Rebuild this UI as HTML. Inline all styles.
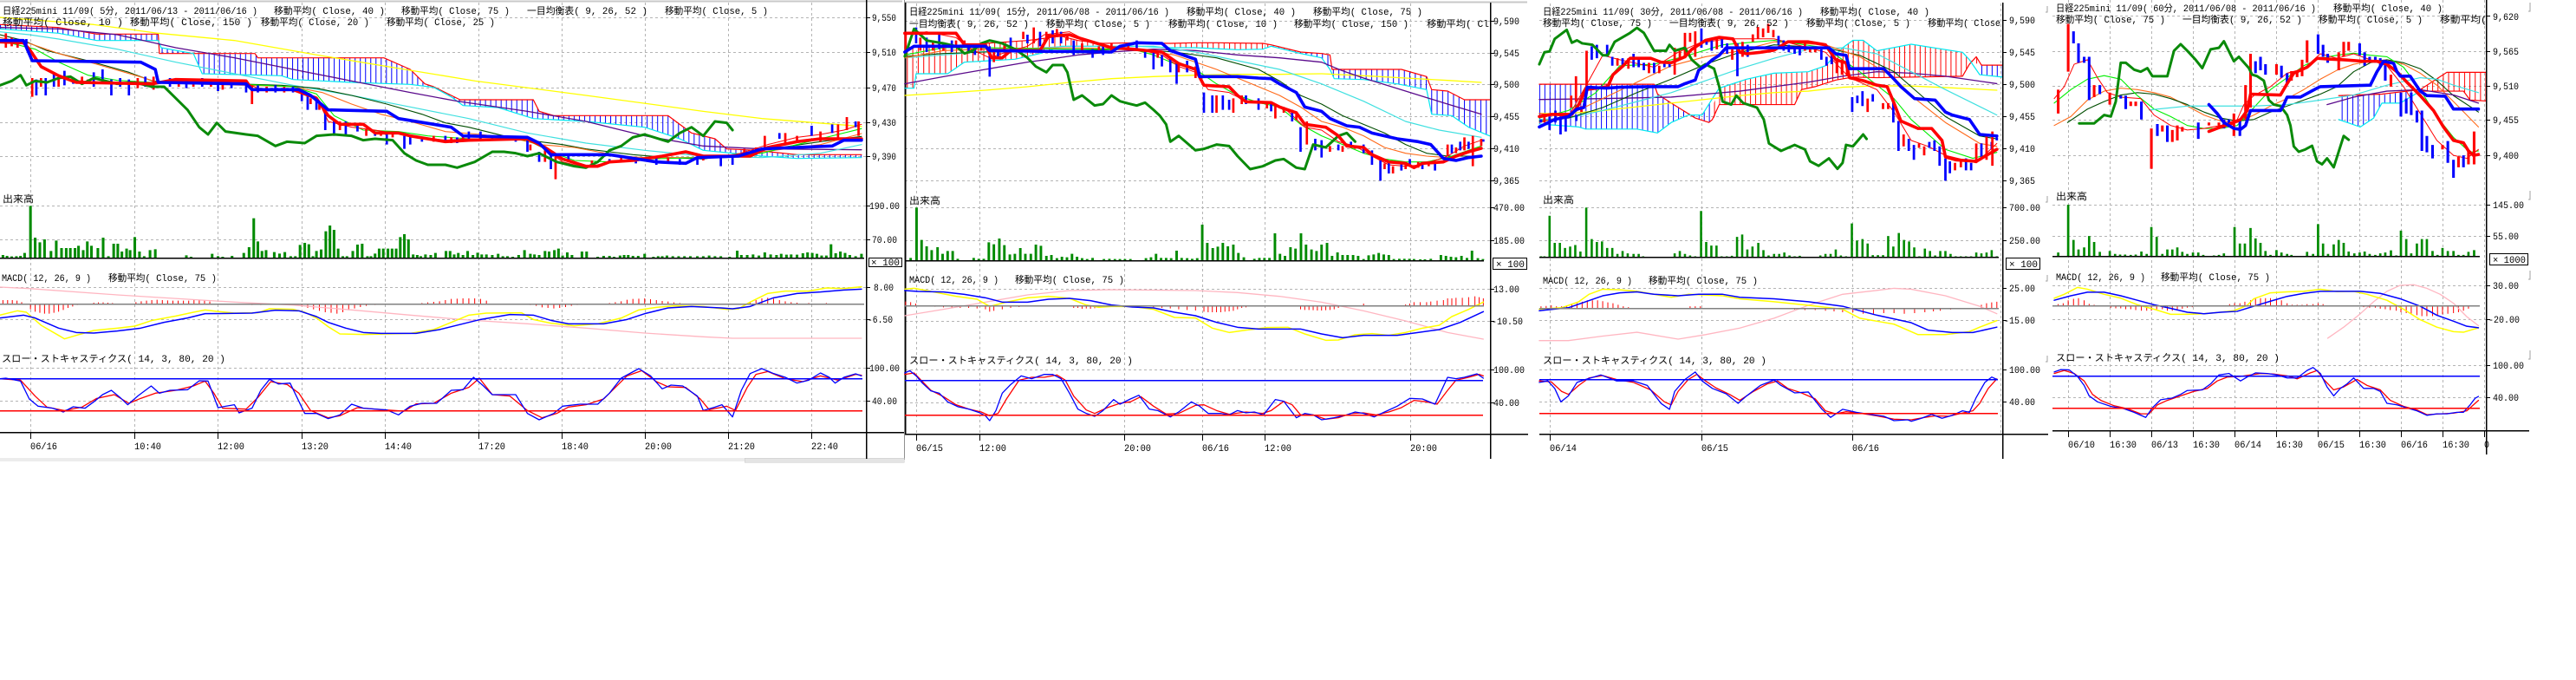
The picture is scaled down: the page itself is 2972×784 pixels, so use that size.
<!DOCTYPE html>
<html><head><meta charset="utf-8">
<style>
html,body{margin:0;padding:0;background:#fff;}
svg{display:block;}
.n{fill:none;vector-effect:non-scaling-stroke;stroke-linejoin:round;stroke-linecap:round;}
.gd{stroke:#b4b4b4;stroke-width:1;stroke-dasharray:3 3;fill:none;}
text{font-family:"Liberation Mono","Noto Sans CJK JP",monospace;font-size:11px;fill:#000;}
</style></head>
<body>
<svg width="2972" height="784" viewBox="0 0 2972 784" xmlns="http://www.w3.org/2000/svg">
<defs>
<pattern id="hb1" patternUnits="userSpaceOnUse" width="8.9" height="10"><rect width="1.5" height="10" fill="#0000ff"/></pattern>
<pattern id="hr2" patternUnits="userSpaceOnUse" width="13" height="10"><rect width="2.1" height="10" fill="#ff0000"/></pattern>
<pattern id="hb2" patternUnits="userSpaceOnUse" width="13" height="10"><rect width="2.1" height="10" fill="#0000ff"/></pattern>
<pattern id="hr3" patternUnits="userSpaceOnUse" width="15" height="10"><rect width="2.5" height="10" fill="#ff0000"/></pattern>
<pattern id="hb3" patternUnits="userSpaceOnUse" width="15" height="10"><rect width="2.5" height="10" fill="#0000ff"/></pattern>
<pattern id="hr4" patternUnits="userSpaceOnUse" width="16" height="10"><rect width="2.6" height="10" fill="#ff0000"/></pattern>
<pattern id="hb4" patternUnits="userSpaceOnUse" width="16" height="10"><rect width="2.6" height="10" fill="#0000ff"/></pattern>
</defs>
<rect width="2972" height="784" fill="#fff"/>

<!-- ================= PANEL 1 ================= -->
<g shape-rendering="crispEdges">
<path class="gd" d="M0 20.5H999M0 60.5H999M0 101.5H999M0 141.5H999M0 180.5H999M0 237.5H999M0 276.5H999M0 331.5H999M0 368.5H999M0 424.5H999M0 462.5H999"/>
<path class="gd" d="M35.5 3V498M155.5 3V498M251.5 3V498M348.5 3V498M444.5 3V498M552.5 3V498M648.5 3V498M744.5 3V498M840.5 3V498M936.5 3V498"/>
<path d="M0 1.5H1041" stroke="#c8c8c8" stroke-width="2"/>
<path d="M1043.5 0V530" stroke="#909090" stroke-width="1"/>
<rect x="0" y="528" width="859" height="4" fill="#ececec"/>
<rect x="859" y="528" width="184" height="5" fill="#e4e4e4" stroke="#c8c8c8" stroke-width="0.5"/>
</g>

<g transform="matrix(0.67613 0 0 0.33333 0 0)">
<polygon points="0,85 100,95 165,118 270,118 272,185 435,185 440,200 655,200 700,240 725,290 740,300 770,330 785,345 910,345 920,385 945,400 1140,400 1160,430 1180,460 1220,480 1240,515 1290,520 1360,535 1470,535 1470,545 1360,548 1300,540 1200,520 1160,480 1100,440 1000,420 910,410 850,372 790,365 770,335 740,302 700,292 600,285 500,275 480,262 345,255 330,185 275,165 270,140 165,140 100,115 0,100" fill="url(#hb1)"/>
<polyline class="n" stroke="#ff0000" stroke-width="1.2" points="0,85 100,95 165,118 270,118 272,185 435,185 440,200 655,200 700,240 725,290 740,300 770,330 785,345 910,345 920,385 945,400 1140,400 1160,430 1180,460 1220,480 1240,515 1290,520 1360,535 1470,535"/>
<polyline class="n" stroke="#00e8f0" stroke-width="1.2" points="0,100 100,115 165,140 270,140 275,165 330,185 345,255 480,262 500,275 600,285 700,292 740,302 770,335 790,365 850,372 910,410 1000,420 1100,440 1160,480 1200,520 1300,540 1360,548 1470,545"/>
<polyline class="n" stroke="#ffff00" stroke-width="1.3" points="0,60 160,85 270,115 400,140 541,190 676,235 811,280 1000,330 1200,385 1300,410 1470,437"/>
<polyline class="n" stroke="#5a0a8c" stroke-width="1.3" points="0,95 100,100 200,120 300,165 400,200 500,240 600,280 700,320 780,350 900,385 1000,420 1100,470 1200,505 1300,515 1470,518"/>
<polyline class="n" stroke="#40e0e0" stroke-width="1.2" points="0,110 50,120 100,135 200,170 300,215 400,255 500,295 600,330 700,370 800,410 900,460 1000,495 1100,520 1200,540 1300,545 1400,530 1470,500"/>
<polyline class="n" stroke="#004d00" stroke-width="1.1" points="0,120 40,140 80,175 150,210 220,250 260,280 300,285 400,290 480,295 540,305 600,330 660,360 720,395 760,425 800,440 860,470 920,490 960,500 1000,515 1040,525 1080,535 1140,545 1200,550 1300,520 1400,490 1470,472"/>
<polyline class="n" stroke="#ff6a1a" stroke-width="1.1" points="0,130 50,150 100,185 170,225 230,260 270,285 320,290 420,295 500,300 550,320 600,360 650,395 700,420 760,455 820,465 880,480 920,500 980,510 1020,525 1060,540 1100,545 1200,545 1300,525 1400,500 1470,462"/>
<polyline class="n" stroke="#00ee00" stroke-width="1.1" points="0,140 60,170 100,215 150,260 200,278 260,285 400,290 500,300 540,325 570,400 620,450 680,455 730,470 800,480 900,485 940,525 980,555 1040,560 1100,550 1200,545 1300,530 1360,500 1400,480 1470,445"/>
<polyline class="n" stroke="#ff0000" stroke-width="1" points="0,140 40,145 70,235 110,275 150,282 200,290 260,285 300,280 420,288 440,305 510,315 540,335 560,420 600,440 640,450 700,470 760,485 800,480 900,480 930,515 960,560 1000,580 1040,560 1100,550 1170,525 1200,545 1240,545 1280,520 1310,500 1360,475 1400,465 1440,450 1470,430"/>
<path stroke="#0000ff" stroke-width="4" fill="none" d="M45 135V165M62 275V330M78 270V330M92 250V300M110 245V295M125 270V290M160 250V300M175 240V290M190 275V330M205 270V300M220 275V330M248 265V300M290 270V300M318 275V305M345 270V300M372 285V315M395 290V305M420 290V320M440 295V320M470 295V320M500 300V320M515 310V350M525 330V380M540 350V380M555 380V450M570 420V470M590 420V465M610 430V455M640 455V470M660 460V500M690 470V515M700 470V500M720 475V490M760 470V490M780 475V495M800 455V485M820 455V480M840 470V485M880 470V490M900 480V525M920 525V560M940 535V585M970 540V560M1040 550V560M1085 550V565M1120 540V570M1160 550V570M1190 545V570M1230 540V575M1250 540V570M1330 460V480M1385 435V470M1420 430V460M1460 420V440"/>
<path stroke="#ff0000" stroke-width="4" fill="none" d="M10 115V165M20 130V160M30 145V165M55 270V335M70 270V300M100 270V300M140 265V290M150 275V290M235 270V305M262 265V310M305 270V300M330 275V300M360 280V300M380 290V310M430 295V360M455 300V320M485 300V320M530 340V360M545 360V380M580 420V450M625 445V470M650 455V470M670 460V475M740 470V490M770 475V495M790 470V490M860 470V480M905 500V520M930 520V560M948 540V620M990 565V580M1010 555V580M1060 545V560M1100 545V555M1140 545V560M1200 540V555M1270 515V535M1290 510V530M1305 470V510M1340 460V500M1360 470V495M1400 455V490M1430 430V480M1445 405V450M1465 420V470"/>
<polyline class="n" stroke="#0a8a0a" stroke-width="3" points="0,295 20,280 35,260 45,295 60,280 80,285 100,270 120,265 140,290 160,270 200,290 230,285 260,300 280,300 300,340 320,380 340,440 355,465 370,425 385,455 420,465 440,470 470,505 490,490 520,495 540,470 570,465 600,470 620,485 640,480 670,485 690,530 710,555 730,570 760,570 780,580 810,560 840,525 860,525 880,530 900,540 920,530 950,560 980,575 1000,580 1020,560 1040,520 1060,505 1080,475 1100,465 1140,490 1160,460 1180,440 1200,470 1220,420 1240,425 1250,450"/>
<polyline class="n" stroke="#ff0000" stroke-width="3.6" points="0,145 40,148 50,170 70,230 100,262 130,285 260,290 300,275 420,280 430,310 500,310 540,340 560,400 580,430 620,430 640,460 680,460 700,470 760,490 800,485 900,480 930,510 960,550 1000,575 1020,575 1040,560 1080,555 1130,540 1170,525 1200,540 1280,540 1310,510 1360,490 1400,480 1440,480 1470,480"/>
<polyline class="n" stroke="#0000ff" stroke-width="3.6" points="0,140 40,140 55,210 240,215 265,240 270,285 420,290 430,310 510,310 530,330 560,380 660,385 680,410 740,430 770,440 790,470 900,475 920,495 940,535 1040,535 1120,560 1170,565 1190,545 1260,540 1300,515 1420,505 1440,485 1470,485"/>
</g>

<g transform="matrix(0.67613 0 0 0.33333 0 220)">
<path stroke="#008a00" stroke-width="4.5" fill="none" d="M5 232V222M12 232V225M20 232V227M28 232V226M35 232V225M42 232V215M52 232V52M60 232V162M68 232V178M76 232V168M87 232V208M96 232V172M105 232V198M113 232V198M120 232V198M128 232V198M134 232V190M142 232V205M149 232V175M156 232V190M167 232V198M176 232V162M185 232V226M194 232V183M201 232V183M208 232V210M216 232V200M222 232V205M230 232V160M238 232V210M246 232V226M256 232V205M265 232V202M318 232V223M326 232V228M362 232V218M372 232V226M380 232V228M396 232V225M416 232V215M425 232V195M433 232V95M440 232V175M447 232V208M454 232V205M468 232V212M477 232V217M486 232V212M496 232V226M504 232V226M512 232V187M520 232V180M527 232V185M534 232V226M540 232V208M548 232V203M556 232V140M563 232V120M570 232V135M577 232V200M585 232V226M592 232V226M602 232V208M610 232V186M618 232V183M627 232V226M633 232V226M640 232V217M647 232V200M654 232V200M662 232V200M669 232V200M676 232V200M683 232V160M690 232V150M697 232V168M705 232V220M712 232V222M718 232V226M726 232V220M735 232V222M743 232V215M761 232V208M768 232V208M775 232V220M782 232V215M790 232V222M798 232V208M807 232V222M815 232V214M822 232V220M830 232V220M840 232V222M850 232V218M858 232V226M866 232V226M875 232V228M885 232V222M895 232V205M905 232V218M912 232V220M920 232V222M930 232V208M937 232V210M946 232V205M953 232V200M960 232V224M968 232V213M976 232V222M993 232V210M1001 232V210M1020 232V228M1030 232V225M1040 232V225M1048 232V228M1058 232V224M1065 232V222M1072 232V222M1080 232V225M1089 232V225M1100 232V218M1115 232V228M1123 232V226M1130 232V226M1138 232V224M1148 232V226M1158 232V226M1168 232V226M1178 232V226M1190 232V226M1200 232V226M1210 232V224M1220 232V226M1230 232V226M1245 232V228M1258 232V207M1265 232V222M1275 232V222M1285 232V220M1295 232V224M1305 232V213M1315 232V220M1325 232V222M1333 232V218M1342 232V221M1350 232V220M1360 232V221M1370 232V216M1378 232V213M1386 232V215M1394 232V218M1402 232V224M1410 232V224M1418 232V185M1426 232V216M1434 232V210M1442 232V215M1450 232V222M1460 232V226M1470 232V218"/>
<path stroke="#ff0000" stroke-width="1.5" fill="none" d="M5 391V378M13 391V378M21 391V378M29 391V380M37 391V385M52 391V410M60 391V418M68 391V422M76 391V425M84 391V425M92 391V422M100 391V418M108 391V412M116 391V405M124 391V400M132 391V395M160 391V387M168 391V386M176 391V386M184 391V387M192 391V388M232 391V385M241 391V382M250 391V380M259 391V378M268 391V377M277 391V378M286 391V379M295 391V380M304 391V380M313 391V380M322 391V380M331 391V378M340 391V378M349 391V380M358 391V383M430 391V395M445 391V395M460 391V394M505 391V395M515 391V400M525 391V405M535 391V410M545 391V415M555 391V420M565 391V422M575 391V425M585 391V420M595 391V413M605 391V407M615 391V402M625 391V398M640 391V395M655 391V394M720 391V388M730 391V386M740 391V384M750 391V382M760 391V378M770 391V374M780 391V373M790 391V372M800 391V372M810 391V372M820 391V374M830 391V380M905 391V395M915 391V398M925 391V403M935 391V405M945 391V407M955 391V405M965 391V402M975 391V398M985 391V395M1040 391V388M1050 391V385M1060 391V382M1070 391V377M1080 391V374M1090 391V373M1100 391V372M1110 391V375M1120 391V378M1130 391V381M1140 391V383M1150 391V386M1160 391V388M1270 391V390M1280 391V384M1290 391V378M1300 391V372M1310 391V370M1320 391V373M1330 391V378M1340 391V382M1350 391V385M1360 391V387M1380 391V388M1410 391V388"/>
<polyline class="n" stroke="#ffb6c1" stroke-width="1.3" points="0,333 50,338 200,360 400,385 500,395 600,412 700,430 800,447 900,460 1000,475 1100,492 1200,505 1250,510 1470,510"/>
<polyline class="n" stroke="#ffff00" stroke-width="1.5" points="0,430 30,415 45,420 70,465 100,500 110,512 130,500 160,483 200,475 230,468 260,448 300,433 330,420 350,412 370,417 400,423 440,422 460,408 500,410 520,420 540,440 560,470 580,495 620,497 660,495 700,493 740,480 770,455 800,430 830,423 890,422 910,445 940,458 980,467 1020,460 1060,440 1090,412 1120,403 1150,398 1200,400 1240,410 1260,408 1280,385 1310,355 1340,347 1380,347 1410,336 1440,338 1470,332"/>
<polyline class="n" stroke="#0000ff" stroke-width="1.5" points="0,440 40,430 60,440 100,475 130,490 160,492 200,485 240,475 280,455 320,440 350,425 430,423 470,413 510,415 540,435 560,455 590,475 620,490 650,493 710,493 750,480 790,460 820,445 870,428 910,430 940,448 970,460 1030,460 1070,445 1100,425 1140,405 1180,400 1230,405 1250,408 1280,400 1320,370 1360,355 1400,350 1440,343 1470,340"/>
<polyline class="n" stroke="#ff0000" stroke-width="1.3" points="0,650 35,655 60,710 80,748 110,760 140,748 165,718 195,705 220,735 240,718 265,700 300,690 330,675 350,658 365,700 380,752 420,755 440,715 462,660 490,670 510,700 530,760 560,785 580,778 610,750 650,757 690,762 710,737 740,735 770,700 800,680 818,648 840,705 870,710 900,760 925,785 950,770 970,748 1000,740 1030,720 1050,680 1070,640 1095,622 1120,660 1140,678 1170,680 1195,720 1210,757 1240,745 1255,760 1275,680 1290,635 1310,625 1340,650 1370,660 1400,640 1430,655 1460,635 1470,638"/>
<polyline class="n" stroke="#0000ff" stroke-width="1.3" points="0,650 10,648 35,658 50,720 65,745 90,752 108,765 125,747 145,752 160,730 175,705 190,690 205,715 218,740 235,710 258,675 272,700 290,690 320,688 340,657 355,658 372,750 385,745 400,740 408,768 430,752 445,690 460,652 475,668 495,665 520,770 540,770 560,788 580,775 600,738 620,752 660,758 680,775 700,745 720,735 745,735 770,690 790,688 808,645 825,675 840,705 880,705 900,770 920,792 945,770 960,745 990,738 1020,738 1040,700 1060,648 1090,615 1110,640 1130,685 1145,672 1165,675 1190,710 1200,760 1220,748 1232,740 1250,782 1265,690 1280,632 1300,615 1320,632 1340,645 1360,665 1380,655 1400,630 1415,645 1425,665 1440,645 1460,633 1470,640"/>
</g>

<g shape-rendering="crispEdges">
<path d="M0 297.5H997" stroke="#000" stroke-width="1.5"/>
<path d="M0 350.5H997" stroke="#808080" stroke-width="1.5"/>
<path d="M0 436.5H995" stroke="#0000ff" stroke-width="1.5"/>
<path d="M0 473.5H995" stroke="#ff0000" stroke-width="1.5"/>
<path d="M0 498.5H1043" stroke="#000" stroke-width="1.5"/>
<path d="M999.5 0V529" stroke="#000" stroke-width="1.5"/>
<path d="M35.5 498V506M155.5 498V506M251.5 498V506M348.5 498V506M444.5 498V506M552.5 498V506M648.5 498V506M744.5 498V506M840.5 498V506M936.5 498V506" stroke="#000" stroke-width="1"/>
<path d="M999 20.5H1004M999 60.5H1004M999 101.5H1004M999 141.5H1004M999 180.5H1004M999 237.5H1004M999 276.5H1004M999 331.5H1004M999 368.5H1004M999 424.5H1004M999 462.5H1004" stroke="#000" stroke-width="1"/>
<rect x="1002.5" y="297.5" width="38" height="10" fill="#fff" stroke="#000" stroke-width="1"/>
</g>
<text x="3" y="16" textLength="294" lengthAdjust="spacingAndGlyphs">日経225mini 11/09( 5分, 2011/06/13 - 2011/06/16 )</text>
<text x="316" y="16" textLength="128" lengthAdjust="spacingAndGlyphs">移動平均( Close, 40 )</text>
<text x="463" y="16" textLength="125" lengthAdjust="spacingAndGlyphs">移動平均( Close, 75 )</text>
<text x="608" y="16" textLength="139" lengthAdjust="spacingAndGlyphs">一目均衡表( 9, 26, 52 )</text>
<text x="767" y="16" textLength="119" lengthAdjust="spacingAndGlyphs">移動平均( Close, 5 )</text>
<text x="3" y="29" textLength="139" lengthAdjust="spacingAndGlyphs">移動平均( Close, 10 )</text>
<text x="150" y="29" textLength="141" lengthAdjust="spacingAndGlyphs">移動平均( Close, 150 )</text>
<text x="301" y="29" textLength="125" lengthAdjust="spacingAndGlyphs">移動平均( Close, 20 )</text>
<text x="446" y="29" textLength="125" lengthAdjust="spacingAndGlyphs">移動平均( Close, 25 )</text>
<text x="1006" y="24" textLength="28" lengthAdjust="spacingAndGlyphs">9,550</text>
<text x="1006" y="64" textLength="28" lengthAdjust="spacingAndGlyphs">9,510</text>
<text x="1006" y="105" textLength="28" lengthAdjust="spacingAndGlyphs">9,470</text>
<text x="1006" y="145" textLength="28" lengthAdjust="spacingAndGlyphs">9,430</text>
<text x="1006" y="184" textLength="28" lengthAdjust="spacingAndGlyphs">9,390</text>
<text x="1003" y="241" textLength="35" lengthAdjust="spacingAndGlyphs">190.00</text>
<text x="1006" y="280" textLength="29" lengthAdjust="spacingAndGlyphs">70.00</text>
<text x="1008" y="335" textLength="23" lengthAdjust="spacingAndGlyphs">8.00</text>
<text x="1001" y="372" textLength="29" lengthAdjust="spacingAndGlyphs">-6.50</text>
<text x="1003" y="428" textLength="35" lengthAdjust="spacingAndGlyphs">100.00</text>
<text x="1006" y="466" textLength="29" lengthAdjust="spacingAndGlyphs">40.00</text>
<text x="1005" y="306" font-size="10" textLength="33" lengthAdjust="spacingAndGlyphs">× 100</text>
<text x="3" y="233" textLength="36" lengthAdjust="spacingAndGlyphs">出来高</text>
<text x="2" y="324" textLength="103" lengthAdjust="spacingAndGlyphs">MACD( 12, 26, 9 )</text>
<text x="125" y="324" textLength="125" lengthAdjust="spacingAndGlyphs">移動平均( Close, 75 )</text>
<text x="2" y="417" textLength="258" lengthAdjust="spacingAndGlyphs">スロー・ストキャスティクス( 14, 3, 80, 20 )</text>
<text x="35" y="518" textLength="31" lengthAdjust="spacingAndGlyphs">06/16</text>
<text x="155" y="518" textLength="31" lengthAdjust="spacingAndGlyphs">10:40</text>
<text x="251" y="518" textLength="31" lengthAdjust="spacingAndGlyphs">12:00</text>
<text x="348" y="518" textLength="31" lengthAdjust="spacingAndGlyphs">13:20</text>
<text x="444" y="518" textLength="31" lengthAdjust="spacingAndGlyphs">14:40</text>
<text x="552" y="518" textLength="31" lengthAdjust="spacingAndGlyphs">17:20</text>
<text x="648" y="518" textLength="31" lengthAdjust="spacingAndGlyphs">18:40</text>
<text x="744" y="518" textLength="31" lengthAdjust="spacingAndGlyphs">20:00</text>
<text x="840" y="518" textLength="31" lengthAdjust="spacingAndGlyphs">21:20</text>
<text x="936" y="518" textLength="31" lengthAdjust="spacingAndGlyphs">22:40</text>

<!-- ================= PANEL 2 ================= -->
<g shape-rendering="crispEdges">
<path class="gd" d="M1044 24.5H1720M1044 61.5H1720M1044 97.5H1720M1044 134.5H1720M1044 171.5H1720M1044 208.5H1720M1044 239.5H1720M1044 277.5H1720M1044 333.5H1720M1044 370.5H1720M1044 426.5H1720M1044 464.5H1720"/>
<path class="gd" d="M1057.5 4V500M1130.5 4V500M1297.5 4V500M1387.5 4V500M1459.5 4V500M1627.5 4V500"/>
<path d="M1044 2.5H1762" stroke="#c8c8c8" stroke-width="2"/>
<path d="M1044.5 3V500" stroke="#000" stroke-width="1.5"/>
</g>
<g transform="matrix(0.48473 0 0 0.33333 1040 0)">
<polygon points="8,165 100,160 200,150 300,140 380,125 420,140 480,150 480,150 450,160 380,160 330,185 270,205 150,215 110,255 35,255 30,305 8,305" fill="url(#hr2)"/>
<polygon points="640,150 700,148 750,148 860,150 880,155 880,160 860,170 800,172 700,165 640,165" fill="url(#hr2)"/>
<polygon points="880,155 950,180 1000,185 1020,190 1025,240 1190,240 1250,265 1262,310 1300,315 1340,345 1400,345 1400,470 1350,440 1310,400 1262,395 1250,310 1180,290 1100,275 1030,272 1020,240 1000,200 950,185 880,160" fill="url(#hb2)"/>
<polyline class="n" stroke="#ff0000" stroke-width="1.2" points="8,165 100,160 200,150 300,140 380,125 420,140 480,150 560,148 640,150 700,148 750,148 860,150 880,155 950,180 1000,185 1020,190 1025,240 1190,240 1250,265 1262,310 1300,315 1340,345 1400,345"/>
<polyline class="n" stroke="#00e8f0" stroke-width="1.2" points="8,305 30,305 35,255 110,255 150,215 270,205 330,185 380,160 450,160 560,160 640,165 700,165 800,172 860,170 880,160 950,185 1000,200 1020,240 1030,272 1100,275 1180,290 1250,310 1262,395 1310,400 1350,440 1400,470"/>
<polyline class="n" stroke="#ffff00" stroke-width="1.3" points="8,330 100,322 200,312 300,300 400,285 500,272 600,265 700,260 800,257 900,257 1000,255 1100,262 1200,270 1300,278 1380,285"/>
<polyline class="n" stroke="#5a0a8c" stroke-width="1.3" points="8,290 100,265 200,240 300,215 350,205 420,190 500,180 600,170 700,175 800,190 900,200 1000,215 1050,245 1100,270 1200,315 1300,360 1380,395"/>
<polyline class="n" stroke="#40e0e0" stroke-width="1.2" points="8,200 100,190 200,178 300,168 400,160 500,160 600,160 700,180 800,210 900,240 1000,290 1100,350 1200,420 1280,450 1380,475"/>
<polyline class="n" stroke="#004d00" stroke-width="1.1" points="8,195 100,185 200,180 400,175 550,170 650,180 750,200 850,240 900,280 950,330 1000,360 1050,400 1100,430 1150,460 1200,500 1250,530 1300,540 1380,540"/>
<polyline class="n" stroke="#ff6a1a" stroke-width="1.1" points="8,200 100,175 200,170 400,165 550,170 650,190 750,240 800,270 850,300 900,330 950,370 1000,420 1050,440 1100,470 1150,510 1200,530 1250,540 1300,545 1380,515"/>
<polyline class="n" stroke="#00ee00" stroke-width="1.1" points="8,190 100,165 200,165 400,170 550,170 600,190 650,220 700,240 750,290 800,330 850,355 900,370 950,430 1000,470 1050,500 1100,530 1150,550 1200,560 1250,560 1300,545 1380,505"/>
<polyline class="n" stroke="#ff0000" stroke-width="1" points="8,120 60,110 130,130 160,165 210,200 240,185 300,160 340,120 400,110 440,140 500,165 560,170 620,190 660,230 700,250 730,310 780,320 820,350 880,358 920,385 960,440 1000,450 1040,490 1080,505 1120,540 1160,570 1200,575 1240,570 1300,540 1340,505 1380,485"/>
<path stroke="#0000ff" stroke-width="5.5" fill="none" d="M35 95V150M60 130V180M90 120V170M120 140V180M160 150V180M175 150V190M210 160V265M230 180V200M260 130V170M300 120V150M330 110V160M360 105V150M380 110V150M410 140V190M455 170V200M480 160V190M560 140V175M580 170V200M600 180V240M620 190V230M640 200V250M655 220V290M680 210V250M720 320V390M740 330V390M765 330V380M780 345V380M820 330V360M850 340V380M880 355V385M930 380V420M950 440V525M985 480V520M1000 485V545M1040 500V520M1070 490V510M1100 500V530M1120 520V570M1140 555V625M1160 560V600M1190 565V590M1210 550V575M1240 560V585M1270 560V590M1310 500V530M1330 490V520M1350 490V515M1385 482V490"/>
<path stroke="#ff0000" stroke-width="5.5" fill="none" d="M10 110V190M45 130V175M75 140V175M100 150V175M130 140V160M150 140V165M190 150V175M220 170V215M245 150V175M290 110V135M315 95V150M345 110V135M370 100V125M395 120V140M430 150V180M470 160V180M500 150V180M540 150V170M610 180V200M660 215V250M700 230V270M750 330V390M790 340V390M810 330V360M870 350V375M890 360V410M910 370V390M940 395V415M965 420V500M1020 505V525M1050 505V525M1080 505V515M1150 565V585M1170 575V600M1200 570V585M1230 560V580M1255 560V575M1300 500V540M1320 510V530M1340 475V520M1360 470V575M1380 480V505"/>
<polyline class="n" stroke="#0a8a0a" stroke-width="3" points="8,195 30,100 60,140 100,150 130,160 150,185 170,175 190,150 210,140 240,150 270,170 300,200 320,230 345,250 360,225 385,225 395,250 410,345 430,330 460,365 480,360 500,330 520,350 540,358 560,365 580,355 600,380 615,400 630,430 640,490 660,470 700,520 720,515 750,500 780,505 800,540 830,585 860,575 890,555 910,550 940,580 960,585 980,500 1010,510 1040,470 1060,460 1080,490"/>
<polyline class="n" stroke="#ff0000" stroke-width="3.6" points="8,115 30,115 130,115 150,155 200,155 215,200 240,200 260,175 330,175 350,125 400,120 420,130 500,165 550,170 620,180 660,220 700,240 720,295 780,300 800,330 820,352 880,355 900,370 920,380 940,390 960,430 1010,440 1040,470 1060,505 1100,510 1120,535 1160,560 1200,565 1220,580 1240,565 1290,560 1320,540 1350,525 1380,513"/>
<polyline class="n" stroke="#0000ff" stroke-width="3.6" points="8,180 30,160 200,160 210,175 350,178 400,178 500,180 520,160 560,148 620,150 640,175 680,195 700,205 710,265 800,265 850,270 880,272 900,290 920,305 940,320 960,370 1000,385 1020,410 1060,435 1090,440 1120,460 1180,480 1230,490 1260,500 1290,548 1320,555 1350,545 1380,540"/>
</g>
<g transform="matrix(0.48473 0 0 0.33333 1040 220)">
<path stroke="#008a00" stroke-width="6" fill="none" d="M22 240V232M36 240V58M48 240V170M60 240V192M72 240V205M86 240V195M98 240V218M110 240V208M122 240V208M134 240V235M172 240V232M184 240V235M196 240V235M208 240V178M220 240V185M233 240V165M245 240V188M258 240V220M270 240V218M283 240V198M295 240V218M308 240V218M320 240V186M332 240V190M345 240V225M357 240V222M370 240V233M382 240V228M394 240V230M406 240V218M418 240V228M430 240V233M442 240V236M455 240V232M482 240V236M495 240V235M508 240V236M520 240V236M532 240V236M545 240V236M582 240V233M594 240V230M606 240V218M618 240V232M630 240V232M642 240V233M655 240V207M667 240V232M680 240V233M692 240V235M704 240V233M716 240V117M728 240V180M741 240V198M753 240V193M765 240V180M777 240V192M790 240V186M802 240V215M815 240V230M840 240V235M852 240V232M864 240V232M876 240V232M889 240V147M901 240V218M913 240V225M926 240V195M938 240V200M951 240V147M963 240V186M976 240V203M988 240V208M1000 240V186M1013 240V180M1025 240V225M1038 240V213M1050 240V222M1062 240V222M1075 240V222M1087 240V225M1100 240V236M1112 240V223M1124 240V220M1136 240V215M1148 240V220M1160 240V222M1172 240V236M1185 240V235M1197 240V235M1209 240V235M1220 240V236M1235 240V237M1246 240V237M1260 240V235M1284 240V222M1296 240V225M1308 240V228M1320 240V230M1333 240V225M1346 240V232M1358 240V207M1372 240V233M1384 240V236"/>
<path stroke="#ff0000" stroke-width="2" fill="none" d="M10 397V383M22 397V385M34 397V390M60 397V400M80 397V401M100 397V403M120 397V404M140 397V405M160 397V405M180 397V407M200 397V410M210 397V418M220 397V415M240 397V410M260 397V405M280 397V402M300 397V400M410 397V405M420 397V405M430 397V408M440 397V407M450 397V408M460 397V406M470 397V405M480 397V403M600 397V403M620 397V405M640 397V407M660 397V410M680 397V412M700 397V414M720 397V418M730 397V420M740 397V420M750 397V420M760 397V420M770 397V418M780 397V417M790 397V415M800 397V410M810 397V405M820 397V403M950 397V410M960 397V412M970 397V412M980 397V413M990 397V414M1000 397V414M1010 397V413M1020 397V412M1030 397V410M1040 397V405M1100 397V390M1200 397V393M1210 397V390M1220 397V385M1235 397V385M1250 397V385M1260 397V383M1275 397V380M1290 397V378M1300 397V372M1310 397V372M1320 397V370M1335 397V370M1350 397V368M1365 397V365M1375 397V368M1385 397V372"/>
<polyline class="n" stroke="#ffb6c1" stroke-width="1.3" points="8,432 100,410 200,385 300,360 400,345 500,342 700,345 800,352 900,365 1000,385 1100,415 1200,450 1300,490 1385,513"/>
<polyline class="n" stroke="#ffff00" stroke-width="1.5" points="8,340 30,337 60,345 130,365 180,375 210,400 250,385 300,370 350,365 400,372 440,395 470,403 500,400 550,400 600,410 650,438 700,440 740,475 780,490 820,482 870,473 920,472 960,495 1010,517 1040,516 1080,498 1120,494 1160,500 1200,490 1240,475 1280,465 1310,435 1350,410 1385,385"/>
<polyline class="n" stroke="#0000ff" stroke-width="1.5" points="8,345 40,348 100,350 150,358 200,370 240,385 300,385 350,375 400,372 450,380 500,395 550,402 600,405 650,420 700,432 750,455 800,472 850,478 950,478 1000,495 1050,508 1100,500 1180,500 1220,492 1280,480 1330,455 1385,418"/>
<polyline class="n" stroke="#ff0000" stroke-width="1.3" points="8,635 30,630 50,660 70,690 100,712 130,740 160,755 190,765 210,778 230,770 250,720 280,655 310,645 340,645 370,637 390,655 410,710 440,758 460,770 490,750 520,735 545,730 570,712 600,745 630,772 660,770 700,742 720,740 750,760 780,773 820,765 860,770 880,760 910,728 930,740 950,775 980,775 1010,790 1040,785 1070,770 1100,768 1130,775 1160,765 1190,750 1220,725 1250,730 1275,738 1300,690 1320,655 1350,645 1375,635 1385,640"/>
<polyline class="n" stroke="#0000ff" stroke-width="1.3" points="8,630 20,622 35,640 50,665 70,692 90,700 110,730 135,747 160,755 185,767 200,778 210,795 225,760 240,700 260,670 285,640 310,650 340,635 360,635 380,650 400,700 420,755 440,770 460,780 480,760 505,722 520,738 545,720 565,707 590,755 610,760 640,782 660,765 690,730 710,745 730,770 760,770 780,775 800,760 820,768 840,765 862,775 890,722 910,728 940,785 960,770 980,775 1000,792 1030,785 1060,775 1080,765 1100,770 1125,782 1150,765 1180,745 1210,718 1240,720 1270,738 1300,645 1320,650 1340,645 1370,633 1385,648"/>
</g>
<g shape-rendering="crispEdges">
<path d="M1044 300.5H1712" stroke="#000" stroke-width="1.5"/>
<path d="M1044 352.5H1712" stroke="#808080" stroke-width="1.5"/>
<path d="M1044 438.5H1711" stroke="#0000ff" stroke-width="1.5"/>
<path d="M1044 478.5H1711" stroke="#ff0000" stroke-width="1.5"/>
<path d="M1044 500.5H1763" stroke="#000" stroke-width="1.5"/>
<path d="M1719.5 3V529" stroke="#000" stroke-width="1.5"/>
<path d="M1057.5 500V508M1130.5 500V508M1297.5 500V508M1387.5 500V508M1459.5 500V508M1627.5 500V508" stroke="#000" stroke-width="1"/>
<path d="M1720 24.5H1724M1720 61.5H1724M1720 97.5H1724M1720 134.5H1724M1720 171.5H1724M1720 208.5H1724M1720 239.5H1724M1720 277.5H1724M1720 333.5H1724M1720 370.5H1724M1720 426.5H1724M1720 464.5H1724" stroke="#000" stroke-width="1"/>
<rect x="1722.5" y="297.5" width="39" height="13" fill="#fff" stroke="#000" stroke-width="1"/>
</g>
<text x="1049" y="17" textLength="300" lengthAdjust="spacingAndGlyphs">日経225mini 11/09( 15分, 2011/06/08 - 2011/06/16 )</text>
<text x="1369" y="17" textLength="126" lengthAdjust="spacingAndGlyphs">移動平均( Close, 40 )</text>
<text x="1515" y="17" textLength="126" lengthAdjust="spacingAndGlyphs">移動平均( Close, 75 )</text>
<text x="1049" y="31" textLength="138" lengthAdjust="spacingAndGlyphs">一目均衡表( 9, 26, 52 )</text>
<text x="1207" y="31" textLength="120" lengthAdjust="spacingAndGlyphs">移動平均( Close, 5 )</text>
<text x="1348" y="31" textLength="126" lengthAdjust="spacingAndGlyphs">移動平均( Close, 10 )</text>
<text x="1493" y="31" textLength="132" lengthAdjust="spacingAndGlyphs">移動平均( Close, 150 )</text>
<text x="1646" y="31" textLength="72" lengthAdjust="spacingAndGlyphs">移動平均( Cl</text>
<text x="1723" y="28" textLength="30" lengthAdjust="spacingAndGlyphs">9,590</text>
<text x="1723" y="65" textLength="30" lengthAdjust="spacingAndGlyphs">9,545</text>
<text x="1723" y="101" textLength="30" lengthAdjust="spacingAndGlyphs">9,500</text>
<text x="1723" y="138" textLength="30" lengthAdjust="spacingAndGlyphs">9,455</text>
<text x="1723" y="175" textLength="30" lengthAdjust="spacingAndGlyphs">9,410</text>
<text x="1723" y="212" textLength="30" lengthAdjust="spacingAndGlyphs">9,365</text>
<text x="1723" y="243" textLength="36" lengthAdjust="spacingAndGlyphs">470.00</text>
<text x="1723" y="281" textLength="36" lengthAdjust="spacingAndGlyphs">185.00</text>
<text x="1723" y="337" textLength="30" lengthAdjust="spacingAndGlyphs">13.00</text>
<text x="1721" y="374" textLength="36" lengthAdjust="spacingAndGlyphs">-10.50</text>
<text x="1723" y="430" textLength="36" lengthAdjust="spacingAndGlyphs">100.00</text>
<text x="1723" y="468" textLength="30" lengthAdjust="spacingAndGlyphs">40.00</text>
<text x="1726" y="308" font-size="10" textLength="33" lengthAdjust="spacingAndGlyphs">× 100</text>
<text x="1049" y="235" textLength="36" lengthAdjust="spacingAndGlyphs">出来高</text>
<text x="1049" y="326" textLength="103" lengthAdjust="spacingAndGlyphs">MACD( 12, 26, 9 )</text>
<text x="1171" y="326" textLength="126" lengthAdjust="spacingAndGlyphs">移動平均( Close, 75 )</text>
<text x="1049" y="419" textLength="258" lengthAdjust="spacingAndGlyphs">スロー・ストキャスティクス( 14, 3, 80, 20 )</text>
<text x="1057" y="520" textLength="31" lengthAdjust="spacingAndGlyphs">06/15</text>
<text x="1130" y="520" textLength="31" lengthAdjust="spacingAndGlyphs">12:00</text>
<text x="1297" y="520" textLength="31" lengthAdjust="spacingAndGlyphs">20:00</text>
<text x="1387" y="520" textLength="31" lengthAdjust="spacingAndGlyphs">06/16</text>
<text x="1459" y="520" textLength="31" lengthAdjust="spacingAndGlyphs">12:00</text>
<text x="1627" y="520" textLength="31" lengthAdjust="spacingAndGlyphs">20:00</text>

<!-- ================= PANEL 3 ================= -->
<g shape-rendering="crispEdges">
<path class="gd" d="M1776 23.5H2310M1776 60.5H2310M1776 97.5H2310M1776 134.5H2310M1776 171.5H2310M1776 208.5H2310M1776 239.5H2310M1776 277.5H2310M1776 332.5H2310M1776 369.5H2310M1776 426.5H2310M1776 463.5H2310"/>
<path class="gd" d="M1788.5 4V500M1963.5 4V500M2137.5 4V500M2308.5 4V500"/>
</g>
<g transform="matrix(0.39541 0 0 0.34447 1770 0)">
<polygon points="15,282 350,282 360,315 400,345 470,395 510,410 520,400 520,330 490,385 450,385 400,410 360,445 300,432 150,432 130,425 15,415" fill="url(#hb3)"/>
<polygon points="520,360 540,295 620,265 700,245 800,240 850,220 900,160 930,135 930,255 880,268 820,290 780,300 760,350 540,350 520,410" fill="url(#hr3)"/>
<polygon points="930,135 960,135 1000,170 1100,148 1250,175 1270,200 1300,218 1290,190 1270,215 1250,255 1000,260 930,260" fill="url(#hr3)"/>
<polygon points="1300,218 1367,218 1367,258 1300,250" fill="url(#hb3)"/>
<polyline class="n" stroke="#ff0000" stroke-width="1.2" points="15,282 350,282 360,315 400,345 470,395 510,410 520,400 540,350 760,350 780,300 820,290 880,268 930,258 1000,260 1250,255 1270,215 1290,190 1305,218 1367,218"/>
<polyline class="n" stroke="#00e8f0" stroke-width="1.2" points="15,415 130,425 150,432 300,432 360,445 400,410 450,385 490,385 520,330 540,295 620,265 700,245 800,240 850,220 900,160 930,135 960,135 1000,170 1100,148 1250,175 1270,200 1300,250 1367,258"/>
<polyline class="n" stroke="#ffff00" stroke-width="1.3" points="15,380 100,380 200,370 400,345 600,320 700,310 800,305 900,292 1000,287 1100,288 1200,293 1350,302"/>
<polyline class="n" stroke="#5a0a8c" stroke-width="1.3" points="15,333 200,330 400,325 500,315 600,305 700,290 800,275 900,255 1000,240 1100,245 1200,255 1350,280"/>
<polyline class="n" stroke="#40e0e0" stroke-width="1.2" points="15,400 100,395 200,370 300,340 400,310 500,270 600,230 700,195 800,165 900,160 1000,180 1100,240 1200,300 1350,385"/>
<polyline class="n" stroke="#004d00" stroke-width="1.1" points="15,405 100,395 200,360 300,310 400,265 500,215 600,175 700,150 850,160 950,185 1050,240 1100,290 1200,390 1300,455 1350,465"/>
<polyline class="n" stroke="#ff6a1a" stroke-width="1.1" points="15,410 100,385 200,330 300,275 400,220 500,190 600,170 700,140 850,150 950,190 1050,260 1100,320 1200,410 1300,480 1350,490"/>
<polyline class="n" stroke="#00ee00" stroke-width="1.1" points="15,395 100,370 180,310 250,220 350,215 450,185 550,150 700,135 850,160 950,240 1050,330 1100,400 1200,500 1280,530 1350,510"/>
<polyline class="n" stroke="#ff0000" stroke-width="1" points="15,380 100,390 150,290 200,185 250,200 350,225 420,175 480,145 560,130 700,130 850,175 920,260 1000,300 1050,375 1100,470 1150,490 1200,520 1290,545 1350,480"/>
<path stroke="#0000ff" stroke-width="7" fill="none" d="M20 400V410M45 390V435M62 370V410M77 390V450M92 380V440M123 385V405M168 155V200M183 150V195M213 150V190M228 190V220M258 195V220M290 180V225M305 195V225M320 210V235M350 210V245M380 205V225M395 205V225M488 95V160M503 130V150M518 130V170M548 130V160M563 145V180M593 145V255M608 160V185M623 150V190M713 120V150M728 135V170M743 150V175M760 160V180M775 160V185M838 165V200M853 190V220M868 165V215M928 325V375M943 320V345M958 305V355M988 315V340M1048 340V410M1063 405V505M1093 465V505M1108 485V535M1153 475V495M1168 470V505M1183 490V555M1200 530V605M1213 540V580M1260 530V570M1275 545V570M1305 480V525M1335 475V500M1350 460V470"/>
<path stroke="#ff0000" stroke-width="7" fill="none" d="M30 385V410M108 320V360M122 255V340M138 355V375M153 170V290M243 195V220M275 195V230M335 210V245M365 220V245M410 160V250M425 170V195M440 110V195M455 110V140M470 105V190M533 125V165M578 165V200M608 140V190M638 115V140M653 90V130M668 95V125M683 80V110M698 100V125M790 145V170M805 160V175M820 160V175M883 195V245M898 200V250M913 210V255M973 330V375M1018 345V365M1033 345V365M1078 450V490M1123 480V495M1138 490V520M1228 545V570M1245 540V560M1290 480V545M1320 455V535M1337 440V555"/>
<polyline class="n" stroke="#0a8a0a" stroke-width="3" points="15,215 30,175 45,172 60,130 95,100 110,143 125,135 140,145 170,150 200,185 215,185 235,140 280,110 300,93 320,110 350,170 385,170 395,150 410,170 440,160 460,200 485,225 500,215 525,230 540,290 550,340 575,350 590,320 610,345 650,360 670,400 685,480 720,505 760,485 790,500 805,540 830,555 860,530 885,565 900,545 910,485 930,490 960,450 970,465"/>
<polyline class="n" stroke="#ff0000" stroke-width="3.6" points="15,390 50,383 110,383 130,350 150,300 215,290 230,250 260,220 280,195 340,195 370,208 400,210 420,200 440,190 460,165 500,135 540,125 580,130 600,175 620,180 660,175 700,168 740,140 800,140 850,150 880,200 910,210 920,260 960,270 1000,285 1030,290 1050,345 1070,405 1120,430 1160,430 1190,470 1200,525 1230,535 1290,540 1320,520 1350,500"/>
<polyline class="n" stroke="#0000ff" stroke-width="3.6" points="15,425 60,400 100,390 125,365 145,360 155,292 210,295 250,292 330,290 420,290 440,280 470,268 480,235 500,220 520,200 540,185 560,160 620,160 860,160 880,180 910,185 920,230 1020,230 1050,265 1070,290 1110,330 1170,335 1200,375 1220,385 1270,400 1300,450 1350,455"/>
<path stroke="#008a00" stroke-width="6.5" fill="none" d="M20 862V858M30 862V858M45 862V722M60 862V813M75 862V813M90 862V830M105 862V825M120 862V820M135 862V842M152 862V695M168 862V800M183 862V810M198 862V808M213 862V830M228 862V830M243 862V850M258 862V840M273 862V848M290 862V850M305 862V850M318 862V858M334 862V860M350 862V860M365 862V860M380 862V860M410 862V848M425 862V840M440 862V850M455 862V855M470 862V858M487 862V706M502 862V810M517 862V822M532 862V822M547 862V858M562 862V858M577 862V856M592 862V793M607 862V785M622 862V835M637 862V825M654 862V813M669 862V837M684 862V855M700 862V850M715 862V850M730 862V845M745 862V855M760 862V858M775 862V856M790 862V860M805 862V860M835 862V855M850 862V850M865 862V850M880 862V835M895 862V855M910 862V858M927 862V748M942 862V805M958 862V800M973 862V815M988 862V854M1003 862V854M1018 862V854M1033 862V790M1048 862V825M1064 862V780M1079 862V803M1094 862V808M1109 862V828M1124 862V858M1140 862V832M1155 862V840M1170 862V855M1185 862V840M1200 862V840M1215 862V850M1230 862V858M1245 862V858M1260 862V858M1275 862V858M1290 862V845M1305 862V848M1320 862V845M1335 862V837M1350 862V858"/>
<path stroke="#ff0000" stroke-width="2.5" fill="none" d="M20 1031V1025M35 1031V1024M50 1031V1022M65 1031V1025M80 1031V1025M95 1031V1022M110 1031V1018M125 1031V1015M140 1031V1010M155 1031V1005M170 1031V1005M185 1031V1005M200 1031V1008M215 1031V1012M230 1031V1015M245 1031V1020M260 1031V1025M275 1031V1028M350 1031V1035M395 1031V1035M455 1031V1025M470 1031V1025M485 1031V1025M560 1031V1035M575 1031V1035M620 1031V1033M760 1031V1036M790 1031V1038M820 1031V1038M850 1031V1040M875 1031V1042M900 1031V1045M930 1031V1045M960 1031V1050M990 1031V1050M1020 1031V1048M1050 1031V1048M1080 1031V1050M1110 1031V1048M1140 1031V1045M1165 1031V1042M1185 1031V1040M1215 1031V1036M1240 1031V1033M1260 1031V1033M1305 1031V1020M1320 1031V1015M1335 1031V1012M1350 1031V1010"/>
<polyline class="n" stroke="#ffb6c1" stroke-width="1.3" points="15,1140 100,1140 200,1125 300,1112 420,1135 500,1120 600,1098 700,1065 800,1022 900,985 1000,972 1050,965 1100,968 1200,990 1300,1025 1350,1050"/>
<polyline class="n" stroke="#ffff00" stroke-width="1.5" points="15,1035 80,1030 130,1010 160,985 200,968 250,970 300,975 400,995 450,985 550,990 600,1000 700,1010 800,1022 900,1035 950,1065 1000,1075 1050,1085 1120,1120 1200,1120 1270,1110 1300,1095 1350,1073"/>
<polyline class="n" stroke="#0000ff" stroke-width="1.5" points="15,1040 100,1030 150,1010 200,990 250,980 300,977 350,985 420,990 480,985 550,985 600,995 700,1000 800,1010 900,1025 1000,1055 1100,1080 1150,1105 1220,1113 1280,1113 1350,1095"/>
<polyline class="n" stroke="#ff0000" stroke-width="1.3" points="15,1275 50,1278 80,1310 100,1320 130,1290 160,1265 200,1257 240,1270 290,1280 340,1305 380,1345 400,1355 420,1310 450,1270 475,1253 500,1275 530,1298 570,1320 600,1340 640,1310 680,1285 710,1275 740,1300 780,1315 820,1335 850,1375 880,1385 910,1378 950,1383 1000,1392 1050,1403 1100,1405 1140,1397 1170,1392 1210,1393 1240,1385 1280,1375 1300,1350 1325,1300 1350,1268"/>
<polyline class="n" stroke="#0000ff" stroke-width="1.3" points="15,1280 40,1275 60,1300 78,1345 100,1325 125,1280 150,1270 195,1255 240,1275 290,1275 330,1290 370,1350 395,1370 410,1310 440,1270 470,1245 490,1275 520,1300 560,1318 595,1350 620,1325 660,1290 700,1272 720,1290 760,1315 800,1312 840,1370 865,1397 900,1370 940,1380 980,1387 1020,1393 1050,1408 1090,1405 1100,1410 1130,1400 1160,1387 1190,1400 1220,1390 1250,1375 1270,1380 1290,1330 1315,1280 1335,1262 1350,1270"/>
</g>
<g shape-rendering="crispEdges">
<path d="M1776 296.5H2306" stroke="#000" stroke-width="1.5"/>
<path d="M1776 355.5H2306" stroke="#808080" stroke-width="1.5"/>
<path d="M1776 437.5H2305" stroke="#0000ff" stroke-width="1.5"/>
<path d="M1776 476.5H2305" stroke="#ff0000" stroke-width="1.5"/>
<path d="M1776 500.5H2363" stroke="#000" stroke-width="1.5"/>
<path d="M2310.5 3V529" stroke="#000" stroke-width="1.5"/>
<path d="M1788.5 500V508M1963.5 500V508M2137.5 500V508" stroke="#000" stroke-width="1"/>
<path d="M2310 23.5H2315M2310 60.5H2315M2310 97.5H2315M2310 134.5H2315M2310 171.5H2315M2310 208.5H2315M2310 239.5H2315M2310 277.5H2315M2310 332.5H2315M2310 369.5H2315M2310 426.5H2315M2310 463.5H2315" stroke="#000" stroke-width="1"/>
<rect x="2314.5" y="297.5" width="39" height="13" fill="#fff" stroke="#000" stroke-width="1"/>
<path d="M2362 7V14H2360M2362 226V233H2360M2362 317V324H2360M2362 410V417H2360" stroke="#a0a0a0" stroke-width="1" fill="none"/>
</g>
<text x="1780" y="17" textLength="300" lengthAdjust="spacingAndGlyphs">日経225mini 11/09( 30分, 2011/06/08 - 2011/06/16 )</text>
<text x="2100" y="17" textLength="126" lengthAdjust="spacingAndGlyphs">移動平均( Close, 40 )</text>
<text x="1780" y="30" textLength="126" lengthAdjust="spacingAndGlyphs">移動平均( Close, 75 )</text>
<text x="1926" y="30" textLength="138" lengthAdjust="spacingAndGlyphs">一目均衡表( 9, 26, 52 )</text>
<text x="2084" y="30" textLength="120" lengthAdjust="spacingAndGlyphs">移動平均( Close, 5 )</text>
<text x="2224" y="30" textLength="84" lengthAdjust="spacingAndGlyphs">移動平均( Close</text>
<text x="2318" y="27" textLength="30" lengthAdjust="spacingAndGlyphs">9,590</text>
<text x="2318" y="64" textLength="30" lengthAdjust="spacingAndGlyphs">9,545</text>
<text x="2318" y="101" textLength="30" lengthAdjust="spacingAndGlyphs">9,500</text>
<text x="2318" y="138" textLength="30" lengthAdjust="spacingAndGlyphs">9,455</text>
<text x="2318" y="175" textLength="30" lengthAdjust="spacingAndGlyphs">9,410</text>
<text x="2318" y="212" textLength="30" lengthAdjust="spacingAndGlyphs">9,365</text>
<text x="2318" y="243" textLength="36" lengthAdjust="spacingAndGlyphs">700.00</text>
<text x="2318" y="281" textLength="36" lengthAdjust="spacingAndGlyphs">250.00</text>
<text x="2318" y="336" textLength="30" lengthAdjust="spacingAndGlyphs">25.00</text>
<text x="2312" y="373" textLength="36" lengthAdjust="spacingAndGlyphs">-15.00</text>
<text x="2318" y="430" textLength="36" lengthAdjust="spacingAndGlyphs">100.00</text>
<text x="2318" y="467" textLength="30" lengthAdjust="spacingAndGlyphs">40.00</text>
<text x="2318" y="308" font-size="10" textLength="33" lengthAdjust="spacingAndGlyphs">× 100</text>
<text x="1780" y="234" textLength="36" lengthAdjust="spacingAndGlyphs">出来高</text>
<text x="1780" y="327" textLength="103" lengthAdjust="spacingAndGlyphs">MACD( 12, 26, 9 )</text>
<text x="1902" y="327" textLength="126" lengthAdjust="spacingAndGlyphs">移動平均( Close, 75 )</text>
<text x="1780" y="419" textLength="258" lengthAdjust="spacingAndGlyphs">スロー・ストキャスティクス( 14, 3, 80, 20 )</text>
<text x="1788" y="520" textLength="31" lengthAdjust="spacingAndGlyphs">06/14</text>
<text x="1963" y="520" textLength="31" lengthAdjust="spacingAndGlyphs">06/15</text>
<text x="2137" y="520" textLength="31" lengthAdjust="spacingAndGlyphs">06/16</text>

<!-- ================= PANEL 4 ================= -->
<g shape-rendering="crispEdges">
<path class="gd" d="M2368 18.5H2869M2368 59.5H2869M2368 99.5H2869M2368 138.5H2869M2368 179.5H2869M2368 236.5H2869M2368 272.5H2869M2368 329.5H2869M2368 368.5H2869M2368 421.5H2869M2368 458.5H2869"/>
<path class="gd" d="M2386.5 0V496M2434.5 0V496M2482.5 0V496M2530.5 0V496M2578.5 0V496M2626.5 0V496M2674.5 0V496M2722.5 0V496M2770.5 0V496M2818.5 0V496M2866.5 0V496"/>
</g>
<g transform="matrix(0.38388 0 0 0.34447 2370 0)">
<polygon points="855,320 985,315 985,345 960,395 920,425 855,400" fill="url(#hb4)"/>
<polygon points="985,318 1100,300 1100,305 1040,345 985,345" fill="url(#hb4)"/>
<polygon points="1100,300 1180,242 1298,242 1298,338 1250,335 1230,305 1100,305" fill="url(#hr4)"/>
<polyline class="n" stroke="#ff0000" stroke-width="1.2" points="1100,305 1230,305 1250,335 1298,338"/>
<polyline class="n" stroke="#ff0000" stroke-width="1.2" points="855,320 985,315 1100,300 1180,242 1298,242"/>
<polyline class="n" stroke="#00e8f0" stroke-width="1.2" points="855,400 920,425 960,395 985,345 1040,345 1100,305"/>
<polyline class="n" stroke="#ff6a1a" stroke-width="1.1" points="0,420 50,390 100,335 150,305 200,295 250,300 300,310 350,325 400,355 450,385 500,405 550,410 600,385 650,355 700,330 750,300 800,265 850,235 900,215 950,205 1000,200 1050,215 1100,245 1150,285 1200,340 1275,425"/>
<polyline class="n" stroke="#004d00" stroke-width="1.1" points="40,410 100,365 150,340 200,318 250,310 300,315 350,330 400,350 450,375 500,395 550,405 600,400 650,375 700,355 750,335 800,315 850,290 900,240 950,210 1000,200 1050,210 1100,230 1150,270 1200,320 1275,375"/>
<polyline class="n" stroke="#00ee00" stroke-width="1.1" points="0,345 50,300 100,265 150,253 200,265 250,320 300,365 350,390 400,420 450,430 500,430 550,420 600,360 650,300 700,260 750,220 800,195 850,185 900,178 950,185 1000,190 1050,225 1100,300 1150,390 1200,460 1250,510 1275,505"/>
<polyline class="n" stroke="#40e0e0" stroke-width="1.2" points="285,368 400,355 500,355 600,355 700,350 800,335 900,318 1000,285 1100,260 1150,265 1200,285 1275,310"/>
<polyline class="n" stroke="#5a0a8c" stroke-width="1.3" points="820,350 900,325 1000,305 1100,300 1200,318 1275,345"/>
<polyline class="n" stroke="#ff0000" stroke-width="1" points="0,330 30,290 60,215 100,200 130,260 160,310 200,325 260,330 300,385 350,420 400,435 450,430 500,420 550,400 570,350 600,320 650,290 700,245 750,230 800,180 850,195 900,180 950,200 1000,220 1050,290 1100,380 1150,470 1200,520 1240,530 1275,500"/>
<path stroke="#0000ff" stroke-width="8" fill="none" d="M58 105V145M73 145V210M90 190V210M105 190V335M137 285V315M200 320V330M215 320V365M262 340V400M310 415V455M340 420V475M433 410V465M510 400V430M525 400V425M558 405V455M605 205V245M620 190V235M635 215V250M683 220V260M700 245V280M793 115V180M808 150V190M822 180V210M918 145V185M933 175V220M948 190V210M965 190V210M980 195V225M995 210V270M1042 310V390M1058 330V380M1073 310V385M1090 370V410M1105 370V505M1120 455V510M1137 485V530M1183 472V545M1200 535V595M1230 520V560"/>
<path stroke="#ff0000" stroke-width="8" fill="none" d="M12 300V380M42 80V240M120 285V325M167 310V350M230 340V355M245 340V355M292 430V565M325 420V440M355 435V475M370 420V470M385 425V440M465 410V420M495 410V420M540 380V455M575 285V400M590 180V360M668 215V250M713 238V270M730 240V258M745 200V255M760 135V210M855 175V235M870 140V190M885 140V170M1012 250V290M1167 485V500M1215 525V560M1245 505V550M1262 440V550"/>
<polyline class="n" stroke="#0a8a0a" stroke-width="3" points="75,413 120,413 150,385 170,390 185,340 200,210 215,210 240,233 260,240 280,228 295,255 340,255 360,170 380,148 400,170 425,200 445,228 470,165 495,160 510,138 540,205 555,190 585,228 595,250 610,255 630,270 645,335 660,350 680,355 700,385 710,420 720,490 735,508 755,500 775,488 790,540 805,550 820,530 840,560 860,490 870,455 885,468"/>
<polyline class="n" stroke="#ff0000" stroke-width="3.6" points="465,440 500,425 530,415 560,400 580,370 590,315 680,318 700,280 720,245 760,225 790,195 830,198 870,200 930,205 970,205 1000,215 1030,240 1060,275 1100,320 1140,370 1170,425 1200,470 1230,478 1245,505 1260,520 1275,517"/>
<polyline class="n" stroke="#0000ff" stroke-width="3.6" points="465,350 490,380 510,410 540,430 560,433 575,420 590,370 680,370 690,350 700,325 740,325 790,295 800,290 950,285 970,240 990,205 1020,212 1030,240 1040,255 1070,255 1100,305 1120,320 1175,322 1200,365 1275,365"/>
<path stroke="#008a00" stroke-width="7" fill="none" d="M12 857V845M42 857V685M58 857V803M73 857V835M90 857V828M105 857V790M120 857V810M137 857V843M167 857V840M183 857V850M198 857V852M213 857V852M230 857V853M245 857V852M262 857V842M278 857V850M292 857V760M308 857V793M325 857V850M340 857V835M355 857V835M370 857V828M385 857V843M400 857V850M417 857V845M433 857V845M448 857V853M480 857V855M495 857V853M510 857V848M542 857V760M558 857V815M573 857V815M590 857V763M605 857V798M620 857V813M635 857V840M650 857V853M668 857V837M683 857V845M700 857V850M713 857V853M760 857V843M778 857V850M793 857V750M808 857V815M823 857V850M840 857V818M855 857V803M870 857V813M885 857V842M902 857V848M918 857V845M933 857V842M948 857V850M965 857V853M980 857V848M995 857V845M1012 857V838M1028 857V855M1042 857V772M1058 857V800M1073 857V848M1090 857V815M1105 857V800M1120 857V800M1137 857V840M1152 857V853M1167 857V830M1183 857V840M1200 857V840M1215 857V853M1230 857V853M1245 857V843M1262 857V837"/>
<path stroke="#ff0000" stroke-width="2.6" fill="none" d="M12 1023V1018M27 1023V1015M42 1023V1005M58 1023V1000M73 1023V998M90 1023V1005M105 1023V1017M120 1023V1020M170 1023V1030M185 1023V1032M200 1023V1032M215 1023V1035M230 1023V1035M245 1023V1038M262 1023V1040M278 1023V1040M292 1023V1040M308 1023V1035M325 1023V1035M340 1023V1040M355 1023V1040M370 1023V1035M385 1023V1033M400 1023V1030M415 1023V1028M527 1023V1018M542 1023V1015M558 1023V1015M573 1023V1010M590 1023V1005M605 1023V1000M620 1023V998M635 1023V998M650 1023V998M668 1023V1000M683 1023V1005M700 1023V1015M715 1023V1020M730 1023V1020M745 1023V1020M760 1023V1018M778 1023V1018M793 1023V1015M808 1023V1018M930 1023V1028M948 1023V1030M965 1023V1030M980 1023V1033M995 1023V1035M1010 1023V1038M1028 1023V1040M1042 1023V1045M1058 1023V1048M1073 1023V1050M1090 1023V1055M1105 1023V1058M1120 1023V1058M1137 1023V1058M1152 1023V1055M1167 1023V1052M1183 1023V1050M1200 1023V1048M1215 1023V1045M1230 1023V1040M1245 1023V1033"/>
<polyline class="n" stroke="#ffb6c1" stroke-width="1.3" points="822,1132 870,1095 920,1050 960,1010 1000,975 1040,955 1080,953 1120,965 1160,985 1200,1015 1240,1060 1275,1090"/>
<polyline class="n" stroke="#ffff00" stroke-width="1.5" points="0,998 30,985 70,962 100,968 150,985 200,998 250,1020 300,1035 350,1052 400,1052 450,1050 500,1045 540,1040 580,1022 600,1000 650,980 700,977 750,975 800,968 850,976 900,975 940,985 1000,1005 1050,1035 1100,1070 1150,1095 1200,1110 1230,1112 1275,1097"/>
<polyline class="n" stroke="#0000ff" stroke-width="1.5" points="0,1005 50,990 100,978 150,978 200,990 250,1005 300,1020 350,1032 400,1045 450,1050 500,1045 550,1042 600,1025 650,1008 700,992 750,982 800,975 850,975 920,975 980,982 1040,1000 1100,1025 1150,1055 1200,1075 1240,1092 1275,1097"/>
<polyline class="n" stroke="#ff0000" stroke-width="1.3" points="0,1250 30,1240 60,1250 90,1275 115,1320 140,1340 180,1358 220,1368 260,1385 285,1385 310,1355 340,1340 380,1325 420,1310 460,1300 490,1275 520,1262 560,1260 590,1255 620,1250 660,1252 700,1258 730,1268 770,1248 790,1240 810,1270 840,1305 870,1295 910,1270 940,1290 980,1305 1010,1340 1050,1360 1090,1372 1120,1388 1160,1385 1200,1383 1240,1375 1260,1355 1275,1340"/>
<polyline class="n" stroke="#0000ff" stroke-width="1.3" points="0,1245 20,1237 45,1238 70,1260 90,1290 105,1325 130,1345 170,1360 210,1368 240,1380 275,1397 295,1365 320,1338 355,1332 380,1320 400,1307 445,1305 470,1285 495,1255 525,1250 560,1275 580,1262 605,1248 640,1250 670,1255 700,1265 730,1265 760,1240 778,1230 800,1250 820,1295 840,1325 860,1300 880,1285 900,1265 930,1300 960,1300 980,1310 1000,1350 1030,1355 1060,1365 1090,1375 1120,1390 1150,1385 1180,1385 1210,1380 1230,1380 1250,1355 1265,1333 1275,1327"/>
</g>
<g shape-rendering="crispEdges">
<path d="M2368 295.5H2861" stroke="#000" stroke-width="1.5"/>
<path d="M2368 352.5H2861" stroke="#808080" stroke-width="1.5"/>
<path d="M2368 433.5H2861" stroke="#0000ff" stroke-width="1.5"/>
<path d="M2368 470.5H2861" stroke="#ff0000" stroke-width="1.5"/>
<path d="M2368 496.5H2918" stroke="#000" stroke-width="1.5"/>
<path d="M2868.5 0V524" stroke="#000" stroke-width="1.5"/>
<path d="M2386.5 496V504M2434.5 496V504M2482.5 496V504M2530.5 496V504M2578.5 496V504M2626.5 496V504M2674.5 496V504M2722.5 496V504M2770.5 496V504M2818.5 496V504M2866.5 496V504" stroke="#000" stroke-width="1"/>
<path d="M2869 18.5H2873M2869 59.5H2873M2869 99.5H2873M2869 138.5H2873M2869 179.5H2873M2869 236.5H2873M2869 272.5H2873M2869 329.5H2873M2869 368.5H2873M2869 421.5H2873M2869 458.5H2873" stroke="#000" stroke-width="1"/>
<rect x="2872.5" y="292.5" width="44" height="13" fill="#fff" stroke="#000" stroke-width="1"/>
<path d="M2919 3V13H2917M2919 220V230H2917M2919 312V322H2917M2919 404V414H2917" stroke="#a0a0a0" stroke-width="1" fill="none"/>
</g>
<text x="2372" y="13" textLength="300" lengthAdjust="spacingAndGlyphs">日経225mini 11/09( 60分, 2011/06/08 - 2011/06/16 )</text>
<text x="2692" y="13" textLength="126" lengthAdjust="spacingAndGlyphs">移動平均( Close, 40 )</text>
<text x="2372" y="26" textLength="126" lengthAdjust="spacingAndGlyphs">移動平均( Close, 75 )</text>
<text x="2518" y="26" textLength="138" lengthAdjust="spacingAndGlyphs">一目均衡表( 9, 26, 52 )</text>
<text x="2675" y="26" textLength="120" lengthAdjust="spacingAndGlyphs">移動平均( Close, 5 )</text>
<text x="2815" y="26" textLength="54" lengthAdjust="spacingAndGlyphs">移動平均(</text>
<text x="2876" y="23" textLength="30" lengthAdjust="spacingAndGlyphs">9,620</text>
<text x="2876" y="63" textLength="30" lengthAdjust="spacingAndGlyphs">9,565</text>
<text x="2876" y="103" textLength="30" lengthAdjust="spacingAndGlyphs">9,510</text>
<text x="2876" y="142" textLength="30" lengthAdjust="spacingAndGlyphs">9,455</text>
<text x="2876" y="183" textLength="30" lengthAdjust="spacingAndGlyphs">9,400</text>
<text x="2876" y="240" textLength="36" lengthAdjust="spacingAndGlyphs">145.00</text>
<text x="2876" y="276" textLength="30" lengthAdjust="spacingAndGlyphs">55.00</text>
<text x="2876" y="333" textLength="30" lengthAdjust="spacingAndGlyphs">30.00</text>
<text x="2871" y="372" textLength="36" lengthAdjust="spacingAndGlyphs">-20.00</text>
<text x="2876" y="425" textLength="36" lengthAdjust="spacingAndGlyphs">100.00</text>
<text x="2876" y="462" textLength="30" lengthAdjust="spacingAndGlyphs">40.00</text>
<text x="2876" y="303" font-size="10" textLength="38" lengthAdjust="spacingAndGlyphs">× 1000</text>
<text x="2372" y="230" textLength="36" lengthAdjust="spacingAndGlyphs">出来高</text>
<text x="2372" y="323" textLength="103" lengthAdjust="spacingAndGlyphs">MACD( 12, 26, 9 )</text>
<text x="2493" y="323" textLength="126" lengthAdjust="spacingAndGlyphs">移動平均( Close, 75 )</text>
<text x="2372" y="416" textLength="258" lengthAdjust="spacingAndGlyphs">スロー・ストキャスティクス( 14, 3, 80, 20 )</text>
<text x="2386" y="516" textLength="31" lengthAdjust="spacingAndGlyphs">06/10</text>
<text x="2434" y="516" textLength="31" lengthAdjust="spacingAndGlyphs">16:30</text>
<text x="2482" y="516" textLength="31" lengthAdjust="spacingAndGlyphs">06/13</text>
<text x="2530" y="516" textLength="31" lengthAdjust="spacingAndGlyphs">16:30</text>
<text x="2578" y="516" textLength="31" lengthAdjust="spacingAndGlyphs">06/14</text>
<text x="2626" y="516" textLength="31" lengthAdjust="spacingAndGlyphs">16:30</text>
<text x="2674" y="516" textLength="31" lengthAdjust="spacingAndGlyphs">06/15</text>
<text x="2722" y="516" textLength="31" lengthAdjust="spacingAndGlyphs">16:30</text>
<text x="2770" y="516" textLength="31" lengthAdjust="spacingAndGlyphs">06/16</text>
<text x="2818" y="516" textLength="31" lengthAdjust="spacingAndGlyphs">16:30</text>
<text x="2866" y="516" textLength="6" lengthAdjust="spacingAndGlyphs">0</text>
</svg>
</body></html>
